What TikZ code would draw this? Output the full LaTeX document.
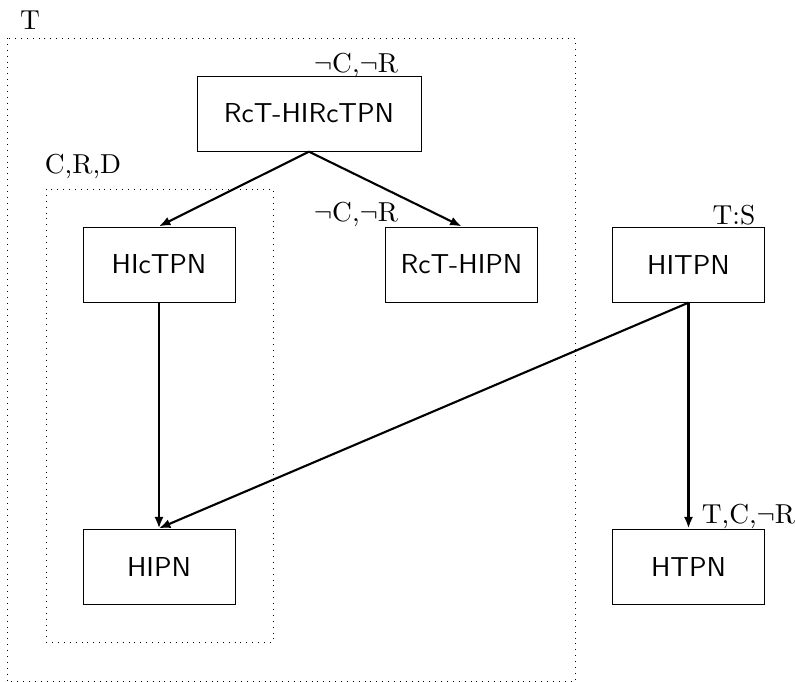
\documentclass[tikz,border=0pt]{standalone}
\usetikzlibrary{arrows.meta}
\begin{document}
\begin{tikzpicture}[x=0.02cm,y=-0.02cm,
  enlarged/.style={scale=1.56,transform shape},
  netbox/.style={enlarged,draw,line width=0.5pt,minimum width=1.949cm,minimum height=0.9615cm,
    inner sep=0pt,font=\sffamily},
  tag/.style={enlarged,inner sep=0pt},
  region/.style={line width=0.45pt,dash pattern=on 0.45pt off 2.9pt},
  flow/.style={line width=1.2pt,-{Latex[length=6.5pt,width=5.2pt]}}]
\useasboundingbox (0,0) rectangle (795,682);

% enclosing regions
\draw[region] (7,38) rectangle (575,681);
\draw[region] (46,189) rectangle (273,642);
\node[tag] (lT) at (30,20) {T};
\node[tag] (lCRD) at (83,166) {C,R,D};

% nets
\node[netbox,minimum width=2.872cm] (top) at (309,113.5) {RcT-HIRcTPN};
\node[netbox] (hictpn) at (159,264.5) {HIcTPN};
\node[netbox] (rcthipn) at (461.5,264.5) {RcT-HIPN};
\node[netbox] (hitpn) at (688.5,264.5) {HITPN};
\node[netbox] (hipn) at (159,566.5) {HIPN};
\node[netbox] (htpn) at (688.5,566.5) {HTPN};

% annotations
\node[tag] (ltop) at (356,65) {$\neg$C,$\neg$R};
\node[tag] (lrct) at (356,214) {$\neg$C,$\neg$R};
\node[tag] (lts) at (734,215) {T:S};
\node[tag] (ltcr) at (748.5,516) {T,C,$\neg$R};

% relations
\draw[flow] (top.south) -- (hictpn.north);
\draw[flow] (top.south) -- (rcthipn.north);
\draw[flow] (hictpn.south) -- (hipn.north);
\draw[flow] (hitpn.south) -- (hipn.north);
\draw[flow] (hitpn.south) -- (htpn.north);
\end{tikzpicture}
\end{document}
